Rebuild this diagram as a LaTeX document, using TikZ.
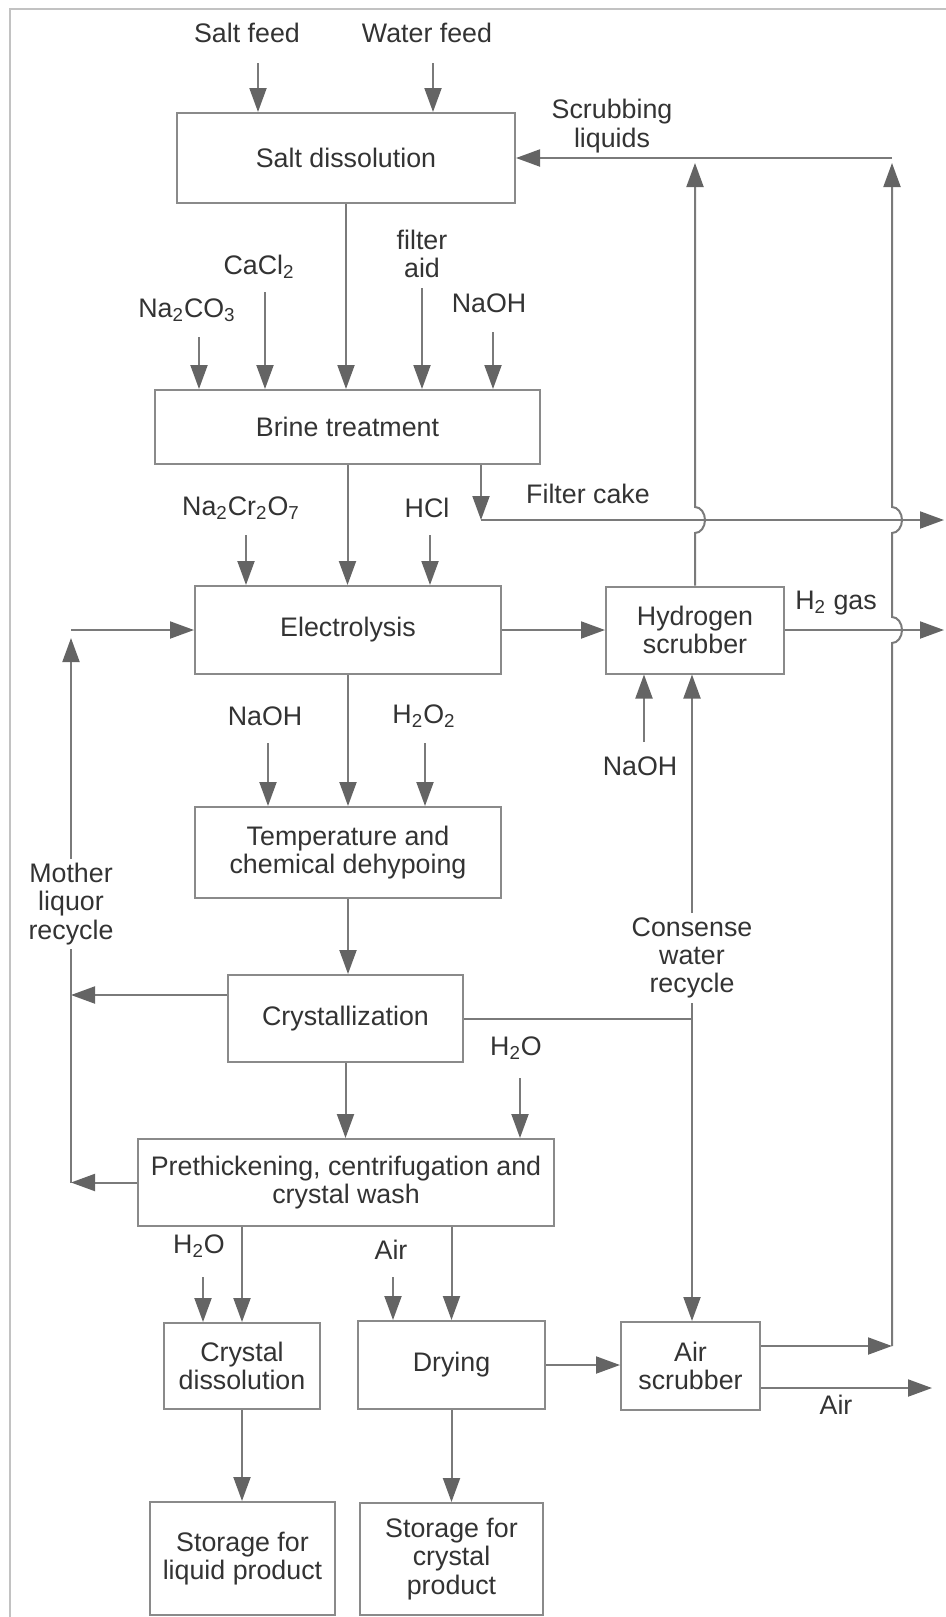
\documentclass[tikz,border=0pt]{standalone}
\usepackage{fontspec}
\setmainfont{Liberation Sans}
\usepackage{tikz}
\usetikzlibrary{positioning}
\usetikzlibrary{arrows.meta}

\definecolor{linegray}{HTML}{7A7A7A}
\definecolor{tipgray}{HTML}{646464}
\definecolor{boxgray}{HTML}{8A8A8A}
\definecolor{textgray}{HTML}{333333}
\definecolor{framegray}{HTML}{C2C2C2}

\begin{document}
\begin{tikzpicture}[x=0.5pt,y=-0.5pt,
  font=\fontsize{13.4}{14.2}\selectfont,
  unit/.style={align=center,draw=boxgray,line width=1pt,text=textgray,inner sep=2pt},
  tag/.style={align=center,text=textgray,inner sep=2pt},
  flow/.style={-{Triangle[length=12pt,width=8.5pt,color=tipgray]},draw=linegray,line width=1pt},
  pipe/.style={draw=linegray,line width=1pt}]
  \useasboundingbox (0,0) rectangle (946,1617);
  \draw[framegray,line width=1pt] (946,9) -- (10,9) -- (10,1617);

  % process units
  \node at (346,158) [unit,minimum width=169pt,minimum height=45pt] (dissol) {Salt dissolution};
  \node at (347.5,427) [unit,minimum width=192.5pt,minimum height=37pt] (brine) {Brine treatment};
  \node at (348,630) [unit,minimum width=153pt,minimum height=44pt] (electro) {Electrolysis};
  \node at (695,630) [unit,minimum width=89pt,minimum height=43.5pt] (hscrub) {Hydrogen\\scrubber};
  \node at (348,852.5) [unit,minimum width=153pt,minimum height=45.5pt] (dehypo) {Temperature and\\chemical dehypoing};
  \node at (345.5,1018.5) [unit,minimum width=117.5pt,minimum height=43.5pt] (cryst) {Crystallization};
  \node at (346,1182.5) [unit,minimum width=208pt,minimum height=43.5pt] (prethick) {Prethickening, centrifugation and\\crystal wash};
  \node at (242,1366) [unit,minimum width=78pt,minimum height=43pt] (cdissol) {Crystal\\dissolution};
  \node at (451.5,1365) [unit,minimum width=93.5pt,minimum height=44pt] (drying) {Drying};
  \node at (690.5,1366) [unit,minimum width=69.5pt,minimum height=44pt] (ascrub) {Air\\scrubber};
  \node at (242.5,1558.5) [unit,minimum width=92.5pt,minimum height=56.5pt] (storliq) {Storage for\\liquid product};
  \node at (451.5,1559) [unit,minimum width=91.5pt,minimum height=56pt] (storcry) {Storage for\\crystal\\product};

  % stream labels
  \node at (247,33) [tag] (saltlbl) {Salt feed};
  \node at (427,33) [tag] (waterlbl) {Water feed};
  \node at (612,126) [tag] (scrublbl) {Scrubbing\\liquids};
  \node at (187,310) [tag] (nacolbl) {Na\textsubscript{2}CO\textsubscript{3}};
  \node at (259,267) [tag] (cacllbl) {CaCl\textsubscript{2}};
  \node at (422,254) [tag] (aidlbl) {filter\\aid};
  \node at (489,303) [tag] (naohlbl) {NaOH};
  \node at (588,494) [tag] (cakelbl) {Filter cake};
  \node at (241,508) [tag] (dichrlbl) {Na\textsubscript{2}Cr\textsubscript{2}O\textsubscript{7}};
  \node at (427,508) [tag] (hcllbl) {HCl};
  \node at (836,603) [tag] (hgaslbl) {H\textsubscript{2} gas};
  \node at (265,716) [tag] (naohblbl) {NaOH};
  \node at (424,716) [tag] (perlbl) {H\textsubscript{2}O\textsubscript{2}};
  \node at (640,766) [tag] (naohclbl) {NaOH};
  \node at (71,904) [tag] (motherlbl) {Mother\\liquor\\recycle};
  \node at (692,958) [tag] (condlbl) {Consense\\water\\recycle};
  \node at (516,1048) [tag] (h2olbl) {H\textsubscript{2}O};
  \node at (199,1246) [tag] (h2oblbl) {H\textsubscript{2}O};
  \node at (391,1250) [tag] (airlbl) {Air};
  \node at (836,1405) [tag] (airoutlbl) {Air};

  % stream ends
  \coordinate (saltsrc) at (258,63);
  \coordinate (watersrc) at (433,63);
  \coordinate (nacosrc) at (199,337);
  \coordinate (caclsrc) at (265,292);
  \coordinate (aidsrc) at (422,288);
  \coordinate (naohsrc) at (493,332);
  \coordinate (dichrsrc) at (246,535);
  \coordinate (hclsrc) at (430,535);
  \coordinate (naohbsrc) at (268,743);
  \coordinate (persrc) at (425,743);
  \coordinate (naohcsrc) at (644,742);
  \coordinate (h2osrc) at (520,1078);
  \coordinate (h2obsrc) at (203,1277);
  \coordinate (airsrc) at (393,1277);
  \coordinate (cake) at (481,520);
  \coordinate (cakeout) at (944,520);
  \coordinate (hgasout) at (944,630);
  \coordinate (airout) at (932,1388);
  \coordinate (leftbot) at (71,1182.5);
  \coordinate (lefttop) at (71,630);
  \coordinate (rightbot) at (892,1346);
  \coordinate (righttop) at (892,158);
  \coordinate (hscrubtop) at (695,158);
  \coordinate (condjoin) at (692,1018.5);
  \coordinate (crystout) at ([yshift=11.75pt]cryst.west);

  % feeds
  \draw[flow] (saltsrc) -- (saltsrc |- dissol.north);
  \draw[flow] (watersrc) -- (watersrc |- dissol.north);
  \draw[flow] (nacosrc) -- (nacosrc |- brine.north);
  \draw[flow] (caclsrc) -- (caclsrc |- brine.north);
  \draw[flow] (aidsrc) -- (aidsrc |- brine.north);
  \draw[flow] (naohsrc) -- (naohsrc |- brine.north);
  \draw[flow] (dichrsrc) -- (dichrsrc |- electro.north);
  \draw[flow] (hclsrc) -- (hclsrc |- electro.north);
  \draw[flow] (naohbsrc) -- (naohbsrc |- dehypo.north);
  \draw[flow] (persrc) -- (persrc |- dehypo.north);
  \draw[flow] (naohcsrc) -- (naohcsrc |- hscrub.south);
  \draw[flow] (h2osrc) -- (h2osrc |- prethick.north);
  \draw[flow] (h2obsrc) -- (h2obsrc |- cdissol.north);
  \draw[flow] (airsrc) -- (airsrc |- drying.north);

  % main line
  \draw[flow] (dissol.south) -- (dissol.south |- brine.north);
  \draw[flow] (brine.south) -- (brine.south |- electro.north);
  \draw[flow] (electro.south) -- (dehypo.north);
  \draw[flow] (dehypo.south) -- (dehypo.south |- cryst.north);
  \draw[flow] (cryst.south) -- (cryst.south |- prethick.north);
  \draw[flow] (cdissol.north |- prethick.south) -- (cdissol.north);
  \draw[flow] (drying.north |- prethick.south) -- (drying.north);
  \draw[flow] (cdissol.south) -- (cdissol.south |- storliq.north);
  \draw[flow] (drying.south) -- (drying.south |- storcry.north);
  \draw[flow] (electro.east) -- (electro.east -| hscrub.west);
  \draw[flow] (drying.east) -- (drying.east -| ascrub.west);

  % filter cake and gas
  \draw[flow] (cake |- brine.south) -- (cake);
  \draw[flow] (cake) -- (cakeout);
  \draw[flow] (hscrub.east) -- (hgasout);

  % mother liquor recycle
  \draw[flow] (crystout) -- (crystout -| leftbot);
  \draw[flow] (prethick.west) -- (leftbot);
  \draw[pipe] (leftbot) -- (motherlbl);
  \draw[flow,shorten >=4pt] (motherlbl) -- (lefttop);
  \draw[flow] (lefttop) -- (electro.west);

  % condensate recycle
  \draw[pipe] (cryst.east) -- (condjoin);
  \draw[pipe] (condjoin) -- (condlbl);
  \draw[flow] (condlbl) -- (condlbl |- hscrub.south);
  \draw[flow] (condjoin) -- (condjoin |- ascrub.north);

  % scrubbing liquids
  \draw[flow,shorten >=2.5pt] (hscrub.north) -- (695,533) arc[start angle=90,end angle=-90,x radius=10,y radius=13] -- (hscrubtop);
  \draw[flow] ([yshift=10pt]ascrub.east) -- (rightbot);
  \draw[flow,shorten >=2.5pt] (rightbot) -- (892,643) arc[start angle=90,end angle=-90,x radius=10,y radius=13] -- (892,533) arc[start angle=90,end angle=-90,x radius=10,y radius=13] -- (righttop);
  \draw[flow] (righttop) -- (dissol.east);
  \draw[flow] ([yshift=-11pt]ascrub.east) -- (airout);
\end{tikzpicture}
\end{document}
